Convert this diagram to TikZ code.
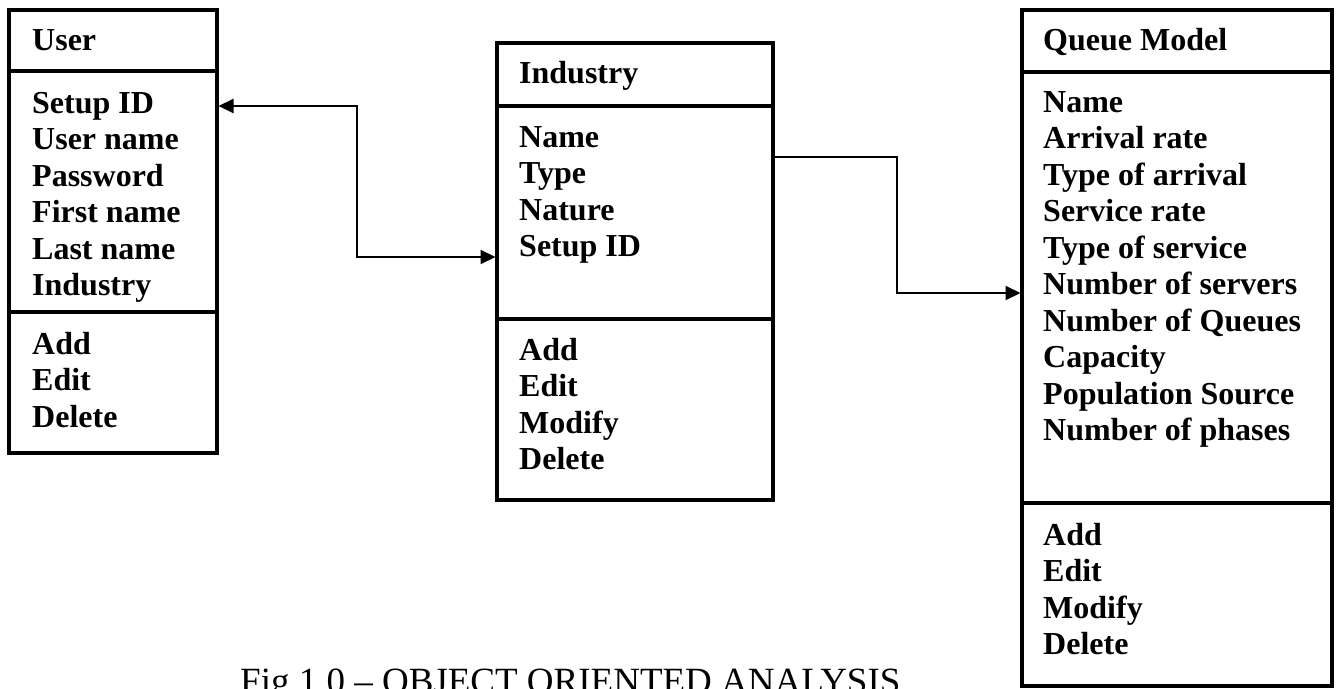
\documentclass[tikz,border=0pt]{standalone}
\usepackage{fontspec}
\setmainfont{Liberation Serif}
\usetikzlibrary{arrows.meta,positioning}

\begin{document}
\begin{tikzpicture}[
    x=1pt, y=-1pt,
    >={Triangle[length=15pt, width=14pt]},
    compart/.style={rectangle, draw, line width=3.5pt, anchor=north west, inner sep=0pt, outer sep=0pt},
    item/.style={anchor=base west, align=left, inner sep=0pt, font=\fontsize{32}{36.5}\selectfont\bfseries},
    caption/.style={anchor=base west, inner sep=0pt, font=\fontsize{37}{42}\selectfont},
    link/.style={line width=2pt, shorten >=1.5pt, shorten <=1.5pt}
]
\useasboundingbox (0,0) rectangle (1337,688);
\clip (0,0) rectangle (1337,688);

% --- User ---
\node[compart, minimum width=208pt, minimum height=61pt] (usrtitle) at (9,10) {};
\node[compart, minimum width=208pt, minimum height=241pt] (usrattr) at (9,71) {};
\node[compart, minimum width=208pt, minimum height=141pt, line width=4pt] (usrops) at (9,312) {};
% base = last line
\node[item] (usrname) at ([shift={(23,40)}]usrtitle.north west) {User};
\node[item] (usrattrtxt) at ([shift={(23,224.5)}]usrattr.north west) {Setup ID\\User name\\Password\\First name\\Last name\\Industry};
\node[item] (usropstxt) at ([shift={(23,115)}]usrops.north west) {Add\\Edit\\Delete};

% --- Industry ---
\node[compart, minimum width=276pt, minimum height=63pt] (indtitle) at (497,43) {};
\node[compart, minimum width=276pt, minimum height=213pt] (indattr) at (497,106) {};
\node[compart, minimum width=276pt, minimum height=181pt] (indops) at (497,319) {};
\node[item] (indname) at ([shift={(22,40)}]indtitle.north west) {Industry};
\node[item] (indattrtxt) at ([shift={(22,150.5)}]indattr.north west) {Name\\Type\\Nature\\Setup ID};
\node[item] (indopstxt) at ([shift={(22,150.5)}]indops.north west) {Add\\Edit\\Modify\\Delete};

% --- Queue Model ---
\node[compart, minimum width=310pt, minimum height=62pt] (qtitle) at (1022,10) {};
\node[compart, minimum width=310pt, minimum height=431pt] (qattr) at (1022,72) {};
\node[compart, minimum width=310pt, minimum height=183pt] (qops) at (1022,503) {};
\node[item] (qname) at ([shift={(21,40)}]qtitle.north west) {Queue Model};
\node[item] (qattrtxt) at ([shift={(21,368.5)}]qattr.north west) {Name\\Arrival rate\\Type of arrival\\Service rate\\Type of service\\Number of servers\\Number of Queues\\Capacity\\Population Source\\Number of phases};
\node[item] (qopstxt) at ([shift={(21,151.5)}]qops.north west) {Add\\Edit\\Modify\\Delete};

% --- Links ---
\draw[link, <->] ([yshift=-35pt]usrattr.north east) -- ++(140,0) |- ([yshift=-151pt]indattr.north west);
\draw[link, ->] ([yshift=-51pt]indattr.north east) -- ++(124,0) |- ([yshift=-221pt]qattr.north west);

% --- Caption ---
\node[caption] (figcap) at (240,693) {Fig 1.0 -- OBJECT ORIENTED ANALYSIS};

\end{tikzpicture}
\end{document}
